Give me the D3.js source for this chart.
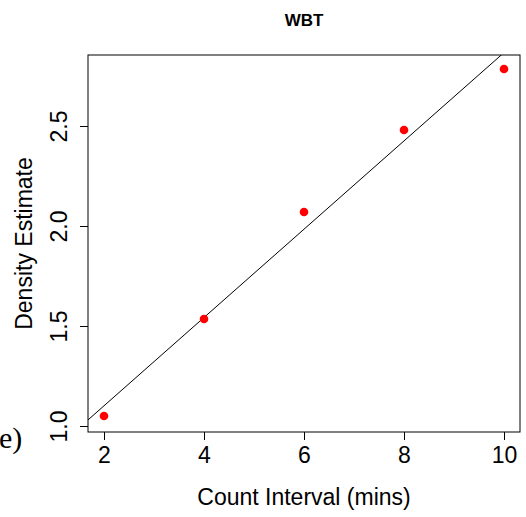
<!DOCTYPE html>
<html><head><meta charset="utf-8">
<script src="https://cdn.jsdelivr.net/npm/d3@7"></script>
<style>html,body{margin:0;padding:0;background:#fff;}</style>
</head><body>
<svg id="c" width="526" height="517"></svg>
<script>
const intervals = [2, 4, 6, 8, 10];
const densities = [1.05, 1.535, 2.07, 2.48, 2.785];
const xTicks = [2, 4, 6, 8, 10];
const yTicks = [1.0, 1.5, 2.0, 2.5];
const title = "WBT";
const xLabel = "Count Interval (mins)";
const yLabel = "Density Estimate";
const panelLabel = "e)";

const svg = d3.select("#c");
const L = 88, R = 520, T = 55, B = 432;
const font = "'Liberation Sans', Arial, sans-serif";

const x = d3.scaleLinear().domain([1.68, 10.32]).range([L, R]);
const y = d3.scaleLinear().domain([0.97, 2.855]).range([B, T]);

// regression fit line
const mx = d3.mean(intervals), my = d3.mean(densities);
const sxy = d3.sum(intervals.map((v, i) => (v - mx) * (densities[i] - my)));
const sxx = d3.sum(intervals.map(v => (v - mx) ** 2));
const slope = sxy / sxx, icpt = my - slope * mx;

svg.append("clipPath").attr("id", "clip").append("rect")
  .attr("x", L).attr("y", T).attr("width", R - L).attr("height", B - T);

svg.append("line").attr("clip-path", "url(#clip)")
  .attr("x1", x(1.0)).attr("y1", y(icpt + slope * 1.0))
  .attr("x2", x(11)).attr("y2", y(icpt + slope * 11))
  .attr("stroke", "#000").attr("stroke-width", 1);

svg.selectAll("circle.pt").data(intervals).enter().append("circle")
  .attr("cx", d => x(d)).attr("cy", (d, i) => y(densities[i]))
  .attr("r", 4.3).attr("fill", "#ff0000");

svg.append("rect").attr("x", L).attr("y", T).attr("width", R - L).attr("height", B - T)
  .attr("fill", "none").attr("stroke", "#000").attr("stroke-width", 1);

// x axis
const xa = svg.append("g").attr("transform", `translate(0,${B})`)
  .call(d3.axisBottom(x).tickValues(xTicks).tickSize(8).tickPadding(7).tickFormat(d3.format("d")));
xa.select(".domain").remove();
xa.selectAll("text").attr("font-family", font).attr("font-size", 23).attr("fill", "#000");

// y axis
const ya = svg.append("g").attr("transform", `translate(${L},0)`)
  .call(d3.axisLeft(y).tickValues(yTicks).tickSize(8).tickFormat(d3.format(".1f")));
ya.select(".domain").remove();
ya.selectAll("text").attr("font-family", font).attr("font-size", 23).attr("fill", "#000")
  .attr("text-anchor", "middle")
  .attr("transform", `translate(-21,0) rotate(-90)`)
  .attr("x", 0).attr("y", 0).attr("dy", 0);

svg.append("text").attr("x", (L + R) / 2).attr("y", 26).attr("text-anchor", "middle")
  .attr("font-family", font).attr("font-weight", "bold").attr("font-size", 17).text(title);

svg.append("text").attr("x", (L + R) / 2).attr("y", 505).attr("text-anchor", "middle")
  .attr("font-family", font).attr("font-size", 23).text(xLabel);

svg.append("text").attr("transform", `translate(32,${(T + B) / 2}) rotate(-90)`)
  .attr("text-anchor", "middle").attr("font-family", font).attr("font-size", 23).text(yLabel);

svg.append("text").attr("x", -1).attr("y", 448)
  .attr("font-family", "'Liberation Serif', 'Times New Roman', serif").attr("font-size", 30).text(panelLabel);
</script>
</body></html>
